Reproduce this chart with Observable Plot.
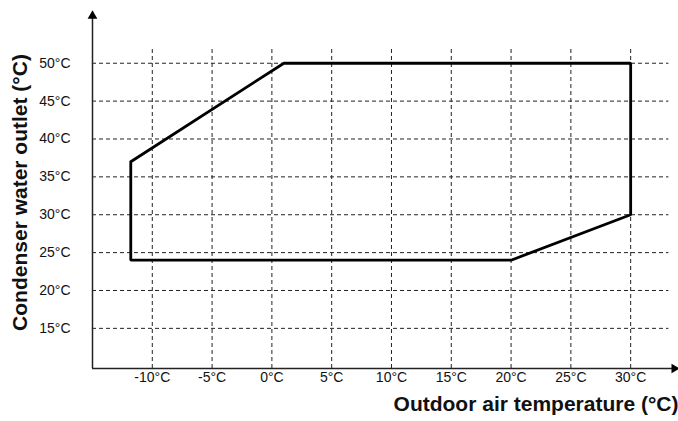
<!DOCTYPE html>
<html>
<head>
<meta charset="utf-8">
<script src="https://cdn.jsdelivr.net/npm/d3@7"></script>
<script src="https://cdn.jsdelivr.net/npm/@observablehq/plot@0.6"></script>
<style>
  html, body { margin: 0; padding: 0; background: #fff; }
  svg { font-family: Arial, "Liberation Sans", sans-serif; }
</style>
</head>
<body>
<div id="chart"></div>
<script>
// Operating envelope (outdoor air °C, condenser water outlet °C)
const envelopeX = [-11.8, 1, 30, 30, 20, -11.8, -11.8];
const envelopeY = [37, 50, 50, 30, 24, 24, 37];

const xTicks = [-10, -5, 0, 5, 10, 15, 20, 25, 30];
const yTicks = [15, 20, 25, 30, 35, 40, 45, 50];
const xTickLabels = ["-10°C", "-5°C", "0°C", "5°C", "10°C", "15°C", "20°C", "25°C", "30°C"];
const yTickLabels = ["15°C", "20°C", "25°C", "30°C", "35°C", "40°C", "45°C", "50°C"];
const xTitle = "Outdoor air temperature (°C)";
const yTitle = "Condenser water outlet (°C)";

const xMin = -15, xMax = 34;
const yMin = 9.7, yMax = 56.7;

const envelope = envelopeX.map((x, i) => ({x, y: envelopeY[i]}));
const xt = xTicks.map((v, i) => ({v, label: xTickLabels[i]}));
const yt = yTicks.map((v, i) => ({v, label: yTickLabels[i]}));

const chart = Plot.plot({
  width: 678,
  height: 421,
  marginLeft: 92,
  marginRight: 0,
  marginTop: 12,
  marginBottom: 53,
  x: {domain: [xMin, xMax], axis: null},
  y: {domain: [yMin, yMax], axis: null},
  marks: [
    // horizontal dashed grid
    Plot.ruleY(yTicks, {y: d => d, x1: xMin, x2: 33.2, stroke: "#222", strokeWidth: 1, strokeDasharray: "4,3"}),
    // vertical dashed grid
    Plot.ruleX(xTicks, {x: d => d, y1: yMin, y2: 52, stroke: "#222", strokeWidth: 1, strokeDasharray: "4,3"}),
    // axes
    Plot.ruleY([yMin], {x1: xMin, x2: 33.6, stroke: "#222", strokeWidth: 1.5}),
    Plot.ruleX([xMin], {y1: yMin, y2: 56, stroke: "#222", strokeWidth: 1.5}),
    Plot.dot([{x: 33.65, y: yMin}], {x: "x", y: "y", symbol: "triangle", r: 3.6, fill: "#000", stroke: "none", rotate: 90}),
    Plot.dot([{x: xMin, y: 56.25}], {x: "x", y: "y", symbol: "triangle", r: 3.6, fill: "#000", stroke: "none"}),
    // envelope
    Plot.line(envelope, {x: "x", y: "y", stroke: "#000", strokeWidth: 2.8, strokeLinejoin: "miter"}),
    // tick labels
    Plot.text(xt, {x: "v", text: "label", frameAnchor: "bottom", dy: 13, fontSize: 14, fill: "#111"}),
    Plot.text(yt, {y: "v", text: "label", frameAnchor: "left", dx: -22, textAnchor: "end", fontSize: 14, fill: "#111"}),
    // titles
    Plot.text([xTitle], {text: d => d, frameAnchor: "bottom-right", dy: 42, textAnchor: "end", fontSize: 21, fontWeight: "bold", fill: "#111"}),
    Plot.text([yTitle], {text: d => d, frameAnchor: "left", dx: -72, dy: 2, rotate: -90, textAnchor: "middle", fontSize: 21, fontWeight: "bold", fill: "#111"})
  ]
});
document.getElementById("chart").appendChild(chart);
</script>
</body>
</html>
